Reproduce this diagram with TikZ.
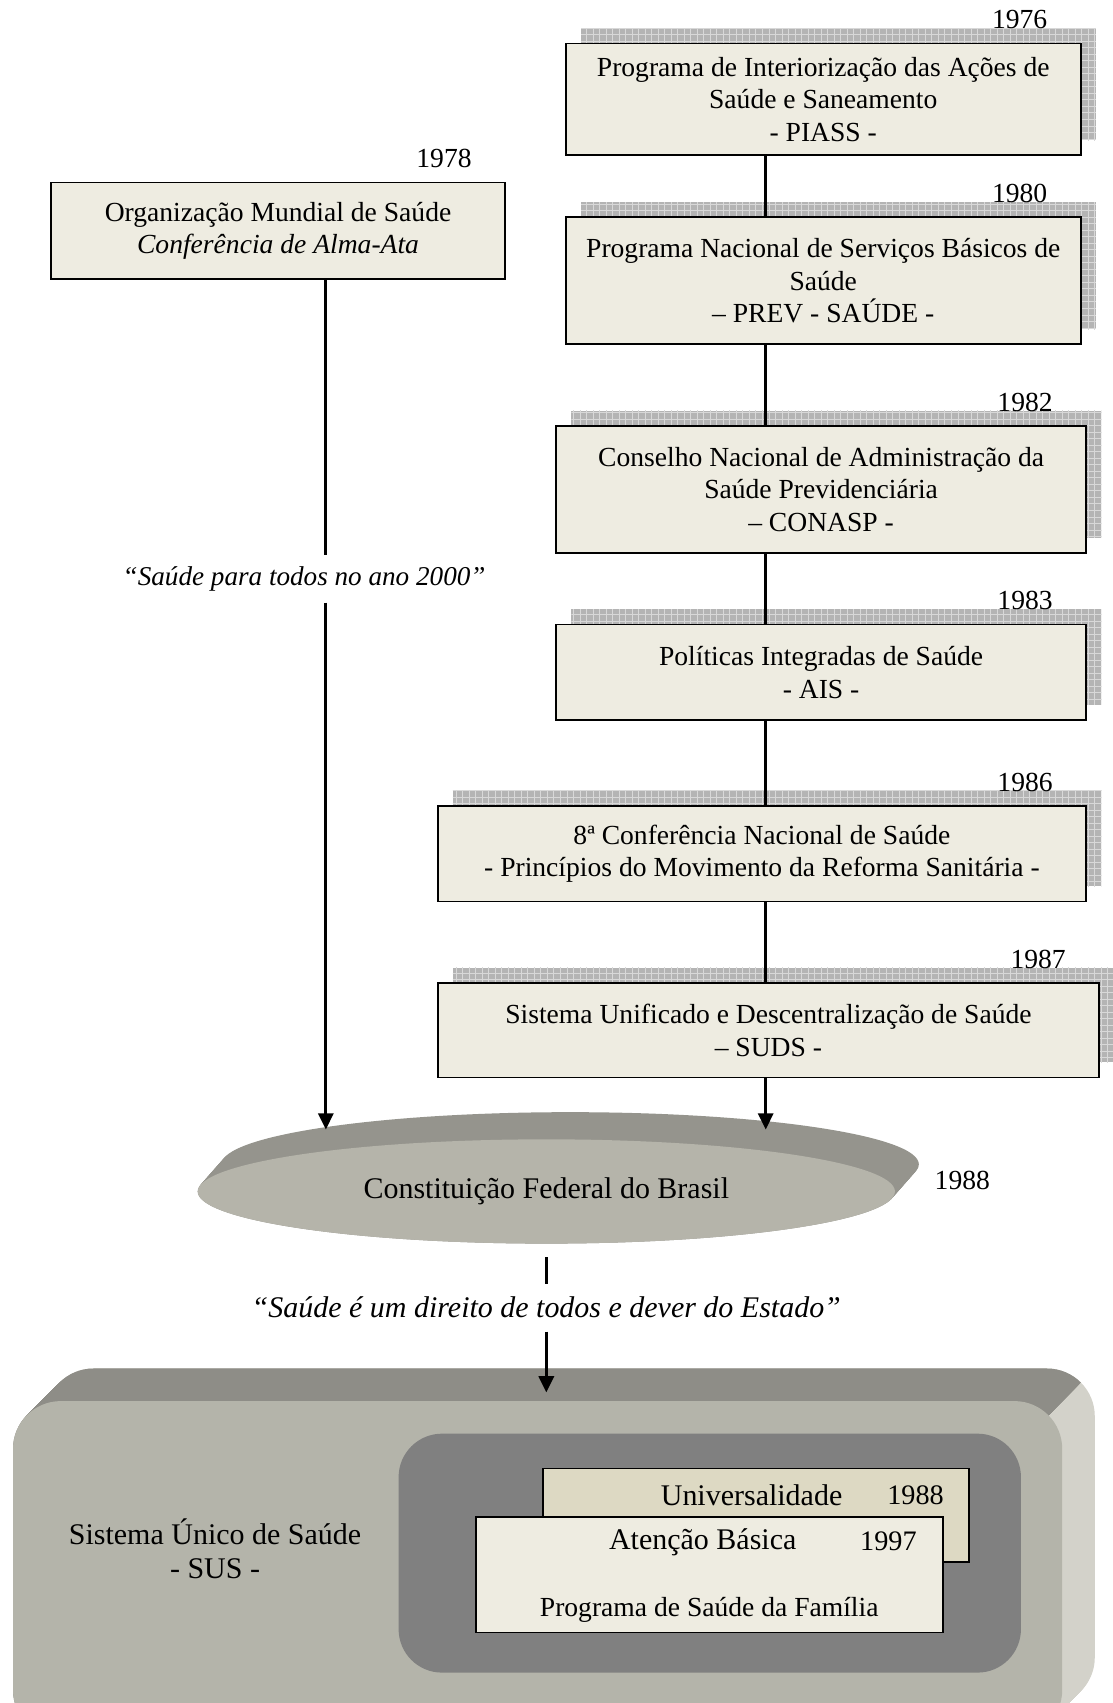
\documentclass[tikz,border=0pt]{standalone}
\usepackage{fontspec}
\setmainfont{Liberation Serif}
\definecolor{boxfill}{HTML}{EEECE1}
\definecolor{boxdark}{HTML}{DDD9C3}
\definecolor{gridgray}{HTML}{B4B4B4}
\definecolor{gridline}{HTML}{D8D8D8}
\definecolor{discfront}{HTML}{B5B4AA}
\definecolor{discside}{HTML}{95948D}
\definecolor{susfront}{HTML}{B4B4AA}
\definecolor{sustop}{HTML}{8E8D87}
\definecolor{susside}{HTML}{D3D2CA}
\definecolor{susinner}{HTML}{808080}
\usetikzlibrary{shapes.geometric, shadows, patterns, arrows.meta}

\begin{document}
\begin{tikzpicture}[x=0.5pt, y=-0.5pt,
    txt/.style={font=\fontsize{12.7}{15}\selectfont, align=center},
    box/.style={txt, draw=black, line width=0.8pt, fill=boxfill, inner sep=0pt},
    gridshadow/.style={general shadow={fill=gridgray, shadow xshift=7pt, shadow yshift=7pt},
                       general shadow={pattern=grid, pattern color=gridline, shadow xshift=7pt, shadow yshift=7pt}},
    year/.style={txt, inner sep=0pt},
    quote/.style={font=\fontsize{12.5}{15}\selectfont\itshape, inner sep=5pt},
    big/.style={font=\fontsize{13.8}{16}\selectfont, align=center, inner sep=0pt},
    link/.style={line width=1.3pt},
    arrow/.style={link, -{Triangle[width=7pt,length=7.5pt]}}
  ]
  \useasboundingbox (0,0) rectangle (1024,1568);
  \fill[white] (0,0) rectangle (1024,1568);

  % SUS slab: side faces first, then the front
  \begin{scope}
    \clip (0,0) rectangle (1024,1568);
    \foreach \k in {0,...,30}
      \fill[susside, rounded corners=22pt] (12+\k,1290-\k) rectangle (978+\k,1600-\k);
    \clip (0,1200) -- (1068,1200) -- (700,1568) -- (0,1568) -- cycle;
    \foreach \k in {0,...,30}
      \fill[sustop, rounded corners=22pt] (12+\k,1290-\k) rectangle (978+\k,1600-\k);
  \end{scope}
  \begin{scope}
    \clip (0,0) rectangle (1024,1568);
    \node[fill=susfront, rounded corners=22pt, minimum width=483pt, minimum height=155pt, inner sep=0pt] (sus) at (495,1445) {};
  \end{scope}
  \node[big, font=\fontsize{13.8}{16}\selectfont] (susname) at (198,1426) {Sistema Único de Saúde\\- SUS -};
  \node[fill=susinner, rounded corners=20pt, minimum width=286.5pt, minimum height=110pt, inner sep=0pt] (core) at (653.5,1430) {};
  \node[draw=black, line width=0.8pt, fill=boxdark, minimum width=196pt, minimum height=43pt, inner sep=0pt] (univ) at (696,1395) {};
  \node[draw=black, line width=0.8pt, fill=boxfill, minimum width=215pt, minimum height=53pt, inner sep=0pt] (basic) at (653,1450) {};
  \node[big] (univtxt) at (692,1377) {Universalidade};
  \node[big, font=\fontsize{13}{14}\selectfont] (univyr) at (843,1377) {1988};
  \node[big] (basictxt) at (647,1420) {Atenção Básica};
  \node[big, font=\fontsize{13}{14}\selectfont] (basicyr) at (818,1419) {1997};
  \node[big, font=\fontsize{12.7}{14}\selectfont] (psf) at (653,1482) {Programa de Saúde da Família};

  % constitution disc
  \foreach \k in {0,...,25}
    \fill[discside] (503+22*\k/25,1097-\k) ellipse [x radius=321, y radius=48];
  \node[ellipse, fill=discfront, minimum width=321pt, minimum height=48pt, inner sep=0pt, big] (cf) at (503,1097) {Constituição Federal do Brasil};
  \node[year] (cfyr) at (886,1087) {1988};
  \coordinate (cfL) at (300,1040);
  \coordinate (cfR) at (705,1040);
  \coordinate (susin) at (503,1282);

  % timeline boxes
  \node[box] (oms) at (256,212.5) [minimum width=209pt, minimum height=44.5pt]
    {Organização Mundial de Saúde\\\textit{Conferência de Alma-Ata}};
  \node[box, gridshadow] (piass) at (758,91.5) [minimum width=237pt, minimum height=51.5pt]
    {Programa de Interiorização das Ações de\\Saúde e Saneamento\\- PIASS -};
  \node[box, gridshadow] (prev) at (758,258.5) [minimum width=237pt, minimum height=58.5pt]
    {Programa Nacional de Serviços Básicos de\\Saúde\\– PREV - SAÚDE -};
  \node[box, gridshadow] (conasp) at (756,450.5) [minimum width=244pt, minimum height=58.5pt]
    {Conselho Nacional de Administração da\\Saúde Previdenciária\\– CONASP -};
  \node[box, gridshadow] (ais) at (756,619) [minimum width=244pt, minimum height=44pt]
    {Políticas Integradas de Saúde\\- AIS -};
  \node[box, gridshadow] (conf) at (701.5,786) [minimum width=298.5pt, minimum height=44pt]
    {8ª Conferência Nacional de Saúde\\- Princípios do Movimento da Reforma Sanitária -};
  \node[box, gridshadow] (suds) at (707.5,948.5) [minimum width=304.5pt, minimum height=43.5pt]
    {Sistema Unificado e Descentralização de Saúde\\– SUDS -};

  \foreach \n/\yr in {oms/1978, piass/1976, prev/1980, conasp/1982, ais/1983, conf/1986, suds/1987}
    \node[year] (yr\n) at ([shift={(-57,-21)}]\n.north east) {\yr};

  \node[quote] (q1) at (280,533) {“Saúde para todos no ano 2000”};
  \node[quote, font=\fontsize{13.8}{16}\selectfont\itshape, inner sep=6pt] (q2) at (503,1204) {“Saúde é um direito de todos e dever do Estado”};

  % connectors
  \foreach \a/\b in {piass/prev, prev/conasp, conasp/ais, ais/conf, conf/suds}
    \draw[link] (\a.south -| cfR) -- (\b.north -| cfR);
  \draw[arrow] (suds.south -| cfR) -- (cfR);
  \draw[link] (oms.south -| cfL) -- (q1.north -| cfL);
  \draw[arrow] (q1.south -| cfL) -- (cfL);
  \draw[link] ([yshift=-6pt]cf.south) -- (q2.north);
  \draw[arrow] (q2.south) -- (susin);
\end{tikzpicture}
\end{document}
